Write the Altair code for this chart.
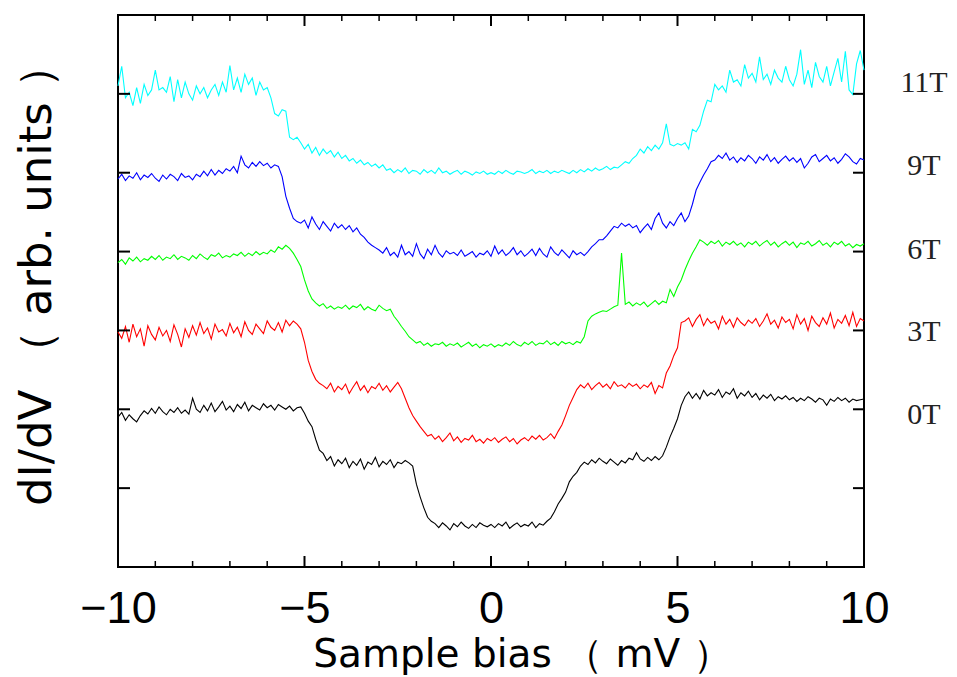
import altair as alt
import pandas as pd

# Sample bias grid (mV), 0.1 mV step
bias = [round(-10 + 0.1 * i, 1) for i in range(201)]

names = ["11T", "9T", "6T", "3T", "0T"]
colors = ["#00FFFF", "#0000FF", "#00FF00", "#FF0000", "#000000"]

y_11T = [
    6.10, 6.35, 5.95, 6.02, 5.85, 6.08, 5.88, 6.12, 5.98, 6.05,
    6.30, 6.05, 6.08, 6.02, 6.22, 5.90, 6.18, 5.95, 6.15, 6.00,
    5.92, 6.10, 6.00, 6.08, 5.95, 6.05, 6.12, 5.98, 6.15, 6.02,
    6.36, 6.05, 6.20, 6.02, 6.25, 6.12, 6.20, 5.98, 6.15, 6.05,
    6.08, 5.95, 5.75, 5.72, 5.80, 5.78, 5.45, 5.42, 5.45, 5.38,
    5.30, 5.36, 5.25, 5.32, 5.22, 5.30, 5.24, 5.28, 5.20, 5.26,
    5.18, 5.22, 5.15, 5.18, 5.12, 5.16, 5.10, 5.13, 5.08, 5.11,
    5.06, 5.10, 5.03, 5.05, 5.00, 5.04, 5.01, 5.06, 4.99, 5.03,
    5.02, 4.98, 5.04, 5.00, 5.03, 4.99, 5.06, 5.00, 5.02, 4.98,
    5.01, 5.03, 4.98, 5.02, 5.00, 4.97, 5.01, 4.99, 5.02, 4.98,
    5.00, 4.98, 5.02, 4.99, 5.03, 5.00, 4.98, 5.02, 5.01, 4.99,
    5.01, 5.04, 4.99, 5.02, 5.00, 5.03, 4.99, 5.02, 5.00, 5.03,
    5.01, 4.99, 5.03, 5.00, 5.04, 5.01, 5.05, 5.02, 5.06, 5.03,
    5.05, 5.08, 5.04, 5.07, 5.06, 5.10, 5.14, 5.12, 5.18, 5.22,
    5.30, 5.25, 5.33, 5.28, 5.35, 5.30, 5.38, 5.62, 5.36, 5.34,
    5.37, 5.35, 5.38, 5.30, 5.55, 5.52, 5.60, 5.78, 5.92, 5.90,
    6.12, 6.05, 6.10, 6.02, 6.30, 6.15, 6.18, 6.10, 6.37, 6.20,
    6.26, 6.15, 6.47, 6.18, 6.25, 6.12, 6.30, 6.20, 6.15, 6.35,
    6.18, 6.10, 6.25, 6.56, 6.12, 6.30, 6.08, 6.40, 6.22, 6.15,
    6.35, 6.10, 6.28, 6.45, 6.15, 6.54, 6.05, 5.99, 6.38, 6.55,
    6.30,
]

y_9T = [
    4.92, 4.98, 4.90, 4.96, 4.93, 5.00, 4.91, 4.97, 4.94, 4.99,
    4.93, 4.89, 4.97, 4.92, 4.98, 4.95, 4.90, 4.99, 4.94, 4.96,
    4.91, 4.98, 4.95, 5.02, 4.96, 5.04, 4.97, 5.03, 4.99, 5.05,
    5.02, 5.08, 5.00, 5.21, 5.10, 5.06, 5.13, 5.08, 5.14, 5.09,
    5.12, 5.06, 5.10, 5.08, 4.95, 4.70, 4.55, 4.42, 4.38, 4.36,
    4.40, 4.30, 4.44, 4.35, 4.28, 4.38, 4.32, 4.26, 4.36, 4.30,
    4.34, 4.28, 4.33, 4.25, 4.30, 4.22, 4.18, 4.12, 4.08, 4.05,
    4.02, 3.98, 4.05, 3.95, 3.99, 3.93, 4.08, 3.96, 4.00, 3.94,
    4.10, 3.97, 3.91, 4.03, 3.96, 4.08, 3.98, 3.93, 4.01, 3.97,
    3.99, 3.95, 4.02, 3.94, 3.97, 4.00, 3.93, 3.98, 3.96, 4.01,
    3.94, 4.07, 3.97, 4.02, 3.95, 3.99, 4.05, 3.96, 4.01, 3.94,
    3.98, 4.03, 3.95, 4.04, 3.97, 3.93, 4.06, 3.99, 3.95, 4.02,
    3.97, 3.92, 4.01, 3.96, 3.99, 3.95, 4.00, 4.06, 4.10, 4.15,
    4.15, 4.20, 4.26, 4.32, 4.30, 4.36, 4.32, 4.35, 4.30, 4.33,
    4.24, 4.30, 4.35, 4.28, 4.42, 4.49, 4.36, 4.30, 4.38, 4.33,
    4.42, 4.49, 4.38, 4.45, 4.60, 4.78, 4.88, 4.97, 5.05, 5.14,
    5.16, 5.22, 5.18, 5.25, 5.16, 5.20, 5.13, 5.19, 5.15, 5.22,
    5.18, 5.12, 5.20, 5.16, 5.23, 5.14, 5.19, 5.12, 5.17, 5.21,
    5.15, 5.19, 5.13, 5.18, 5.06, 5.12, 5.20, 5.23, 5.14, 5.18,
    5.22, 5.15, 5.19, 5.12, 5.17, 5.24, 5.20, 5.14, 5.11, 5.18,
    5.16,
]

y_6T = [
    3.86, 3.90, 3.84, 3.92, 3.88, 3.93, 3.87, 3.91, 3.89, 3.94,
    3.90, 3.95, 3.89, 3.93, 3.91, 3.96, 3.90, 3.94, 3.92, 3.89,
    3.95, 3.91, 3.97, 3.93, 3.90, 3.96, 3.94, 3.98, 3.92, 3.95,
    3.93, 3.97, 3.95, 3.99, 3.94, 3.98, 3.95, 4.00, 3.96, 3.99,
    3.97, 4.02, 3.99, 4.06, 4.03, 4.08, 4.04, 3.98, 3.90, 3.81,
    3.64, 3.50, 3.40, 3.35, 3.31, 3.34, 3.28, 3.31, 3.27, 3.30,
    3.28, 3.32, 3.27, 3.31, 3.29, 3.33, 3.26, 3.30, 3.27, 3.25,
    3.32, 3.28, 3.25, 3.27, 3.18, 3.12, 3.05, 2.99, 2.92, 2.88,
    2.84, 2.86, 2.81, 2.84, 2.80, 2.83, 2.82, 2.85, 2.80, 2.83,
    2.81, 2.84, 2.79, 2.82, 2.85, 2.80, 2.83, 2.78, 2.82, 2.80,
    2.83, 2.79, 2.82, 2.80, 2.84, 2.81, 2.86, 2.82, 2.80, 2.85,
    2.82, 2.86, 2.81, 2.84, 2.83, 2.87, 2.82, 2.85, 2.81, 2.86,
    2.83, 2.85, 2.82, 2.86, 2.84, 2.92, 3.12, 3.18, 3.21, 3.23,
    3.25, 3.24, 3.27, 3.30, 3.32, 3.98, 3.33, 3.36, 3.31, 3.35,
    3.32, 3.36, 3.30, 3.34, 3.38, 3.33, 3.37, 3.35, 3.52, 3.43,
    3.55, 3.64, 3.77, 3.88, 3.98, 4.06, 4.15, 4.12, 4.08, 4.13,
    4.10, 4.14, 4.07, 4.12, 4.09, 4.13, 4.08, 4.11, 4.06, 4.12,
    4.09, 4.13, 4.07, 4.11, 4.14, 4.08, 4.12, 4.06, 4.10, 4.13,
    4.08, 4.12, 4.05, 4.11, 4.09, 4.13, 4.07, 4.10, 4.14, 4.08,
    4.11, 4.06, 4.12, 4.09, 4.13, 4.07, 4.10, 4.05, 4.09, 4.07,
    4.10,
]

y_3T = [
    2.98, 2.90, 3.05, 2.85, 3.08, 2.92, 3.02, 2.80, 3.06, 2.95,
    2.88, 3.04, 2.93, 3.00, 2.86, 3.07, 2.95, 2.79, 3.02, 2.91,
    3.06, 2.94, 3.10, 2.96, 3.03, 2.89, 3.08, 2.98, 3.01, 2.93,
    3.09, 2.97, 3.04, 2.92, 3.11, 3.00, 2.95, 3.08, 3.02, 2.96,
    3.12, 3.04, 3.00, 3.10, 2.98, 3.13, 3.06, 3.12, 3.08, 3.02,
    2.85, 2.62, 2.48, 2.38, 2.33, 2.30, 2.26, 2.33, 2.22, 2.29,
    2.25, 2.32, 2.20, 2.28, 2.35, 2.24, 2.30, 2.21, 2.29, 2.26,
    2.33, 2.24, 2.30, 2.22, 2.28, 2.34, 2.26, 2.14, 2.02, 1.92,
    1.85, 1.78, 1.72, 1.66, 1.68, 1.62, 1.66, 1.59, 1.64, 1.70,
    1.60, 1.65, 1.58, 1.63, 1.61, 1.67, 1.59, 1.62, 1.57, 1.63,
    1.60, 1.64, 1.58, 1.62, 1.65, 1.59, 1.63, 1.56, 1.61, 1.64,
    1.60, 1.66, 1.62, 1.67, 1.61, 1.64, 1.69, 1.63, 1.72, 1.80,
    1.92, 2.05, 2.15, 2.25, 2.31, 2.27, 2.33, 2.25, 2.30, 2.34,
    2.28, 2.32, 2.26, 2.35, 2.29, 2.31, 2.27, 2.33, 2.29, 2.32,
    2.26, 2.31, 2.28, 2.34, 2.20, 2.30, 2.27, 2.46, 2.55, 2.68,
    2.78, 3.10, 3.12, 3.16, 3.05, 3.14, 3.20, 3.06, 3.15, 3.09,
    3.12, 3.02, 3.18, 3.08, 3.14, 3.04, 3.16, 3.10, 3.06, 3.13,
    3.09, 3.15, 3.05, 3.12, 3.21, 3.08, 3.13, 3.03, 3.17, 3.10,
    3.14, 3.02, 3.20, 3.08, 3.15, 3.00, 3.18, 3.10, 3.05, 3.16,
    3.08, 3.22, 3.03, 3.14, 3.09, 3.19, 3.06, 3.23, 3.05, 3.15,
    3.12,
]

y_0T = [
    1.90, 1.96, 1.86, 1.93, 1.88, 1.84, 1.92, 1.98, 1.94, 2.01,
    1.95, 2.03, 1.97, 1.93, 2.00, 1.96, 2.02, 1.95, 1.99, 1.94,
    2.14, 2.00, 1.96, 2.05, 1.98, 2.08, 1.97, 2.03, 2.10, 1.99,
    2.04, 1.97, 2.06, 2.01, 2.09, 1.98, 2.05, 2.02, 1.99, 2.07,
    2.02, 2.05, 1.99, 2.06, 2.03, 2.00, 2.04, 1.98, 2.02, 2.03,
    1.95, 1.85, 1.78, 1.62, 1.48, 1.44, 1.35, 1.40, 1.28, 1.36,
    1.31, 1.38, 1.26, 1.34, 1.29, 1.37, 1.24, 1.33, 1.30, 1.39,
    1.27, 1.34, 1.30, 1.36, 1.26, 1.33, 1.31, 1.35, 1.32, 1.28,
    1.05, 0.89, 0.75, 0.63, 0.58, 0.55, 0.50, 0.56, 0.52, 0.47,
    0.55, 0.51, 0.57, 0.52, 0.49, 0.54, 0.50, 0.56, 0.53, 0.51,
    0.54, 0.50, 0.55, 0.52, 0.57, 0.49, 0.53, 0.56, 0.51, 0.54,
    0.52, 0.57, 0.50, 0.55, 0.53, 0.58, 0.62, 0.70, 0.80, 0.87,
    0.95, 1.08, 1.15, 1.20, 1.28, 1.33, 1.30, 1.36, 1.32, 1.38,
    1.34, 1.31, 1.37, 1.33, 1.29, 1.35, 1.32, 1.38, 1.36, 1.45,
    1.37, 1.34, 1.39, 1.35, 1.40, 1.36, 1.41, 1.52, 1.65, 1.76,
    1.88, 2.05, 2.16, 2.22, 2.14, 2.20, 2.13, 2.24, 2.17, 2.21,
    2.18, 2.25, 2.15, 2.22, 2.19, 2.26, 2.14, 2.21, 2.17, 2.23,
    2.15, 2.20, 2.12, 2.18, 2.14, 2.19, 2.11, 2.16, 2.13, 2.17,
    2.12, 2.15, 2.10, 2.14, 2.11, 2.16, 2.13, 2.09, 2.14, 2.12,
    2.05, 2.13, 2.10, 2.15, 2.11, 2.14, 2.09, 2.13, 2.11, 2.12,
    2.13,
]

# right-hand annotation labels and their vertical anchors (data units)
label_text = ["11T", "9T", "6T", "3T", "0T"]
label_y = [6.14, 5.09, 4.02, 2.98, 1.93]

# axis tick values
x_major = [-10, -5, 0, 5, 10]
x_minor = [-9, -8, -7, -6, -4, -3, -2, -1, 1, 2, 3, 4, 6, 7, 8, 9]
y_ticks = [1, 2, 3, 4, 5, 6]

series = {"11T": y_11T, "9T": y_9T, "6T": y_6T, "3T": y_3T, "0T": y_0T}
rows = []
for nm in names:
    for b, v in zip(bias, series[nm]):
        rows.append({"bias": b, "didv": v, "field": nm})
df = pd.DataFrame(rows)

W, H = 746, 552
xs = alt.Scale(domain=[-10, 10], nice=False, zero=False)
ys = alt.Scale(domain=[0, 7], nice=False, zero=False)

x_axis = alt.Axis(
    values=x_major, grid=False, domain=False, ticks=False,
    labelFont="Liberation Sans", labelFontSize=45, labelColor="black",
    labelBaseline="alphabetic", labelPadding=55, labelFlush=False,
    title="Sample bias （ mV ）", titleFont="DejaVu Sans", titleFontSize=39,
    titleFontWeight="normal", titleColor="black",
    titleX=404, titleY=99, titleBaseline="alphabetic", titleAlign="center",
)
y_axis = alt.Axis(
    values=y_ticks, labels=False, ticks=False, domain=False, grid=False,
    title="dI/dV （ arb. units ）", titleFont="DejaVu Sans", titleFontSize=45,
    titleFontWeight="normal", titleColor="black",
    titleX=-68, titleY=259, titleAngle=270, titleBaseline="alphabetic",
    titleAlign="center",
)

lines = alt.Chart(df).mark_line(strokeWidth=1.1).encode(
    x=alt.X("bias:Q", scale=xs, axis=x_axis, title="Sample bias （ mV ）"),
    y=alt.Y("didv:Q", scale=ys, axis=y_axis, title="dI/dV （ arb. units ）"),
    color=alt.Color("field:N", scale=alt.Scale(domain=names, range=colors), legend=None),
    order=alt.Order("bias:Q"),
)

maj = pd.DataFrame({"v": x_major})
mnr = pd.DataFrame({"v": x_minor})
yt = pd.DataFrame({"v": y_ticks})


def xrule(data, y0, y1, sw):
    return alt.Chart(data).mark_rule(color="black", strokeWidth=sw).encode(
        x=alt.X("v:Q", scale=xs, axis=x_axis, title="Sample bias （ mV ）"),
        y=alt.value(y0), y2=alt.value(y1))


def yrule(data, x0, x1, sw):
    return alt.Chart(data).mark_rule(color="black", strokeWidth=sw).encode(
        y=alt.Y("v:Q", scale=ys, axis=y_axis, title="dI/dV （ arb. units ）"),
        x=alt.value(x0), x2=alt.value(x1))


ticks = [
    xrule(maj, H, H - 11, 2), xrule(maj, 0, 11, 2),
    xrule(mnr, H, H - 6, 1.5), xrule(mnr, 0, 6, 1.5),
    yrule(yt, 0, 12, 2), yrule(yt, W, W - 11, 2),
]

labels = alt.Chart(pd.DataFrame({"t": label_text, "ly": label_y})).mark_text(
    font="Liberation Serif", fontSize=30, align="center", baseline="middle", color="#222222"
).encode(
    x=alt.value(806),
    y=alt.Y("ly:Q", scale=ys, axis=y_axis, title="dI/dV （ arb. units ）"),
    text="t:N",
)

chart = alt.layer(lines, *ticks, labels).properties(
    width=W, height=H,
    autosize=alt.AutoSizeParams(type="none"),
    padding={"left": 110, "top": 7, "right": 85, "bottom": 108},
    background="white",
).configure_view(stroke="black", strokeWidth=2)

chart.save("out.html", embed_options={"renderer": "svg", "actions": False})
